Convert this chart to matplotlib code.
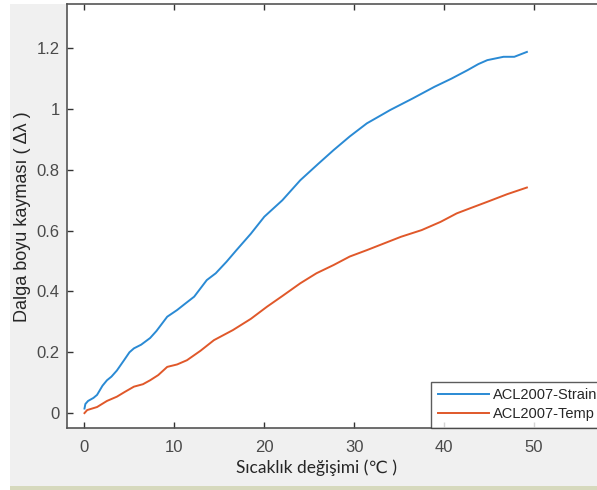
import matplotlib
matplotlib.use("Agg")
import matplotlib.pyplot as plt
from matplotlib.patches import Rectangle

# ---- data ----
strain_x = [0, 0.1, 0.4, 1.0, 1.4, 2.0, 2.5, 3.0, 3.6, 4.4, 5.0, 5.5, 6.3, 7.3, 8.0,
            9.2, 10.3, 11.2, 12.2, 13.6, 14.6, 15.8, 16.9, 18.5, 20.0, 22.0, 24.0,
            26.0, 27.7, 29.5, 31.4, 33.0, 34.0, 36.5, 38.9, 40.8, 42.6, 43.8, 44.8,
            46.6, 47.8, 49.2]
strain_y = [0.015, 0.03, 0.04, 0.05, 0.06, 0.09, 0.108, 0.12, 0.14, 0.174, 0.2, 0.213,
            0.225, 0.247, 0.27, 0.317, 0.339, 0.36, 0.383, 0.4375, 0.46, 0.498, 0.536,
            0.59, 0.646, 0.70, 0.766, 0.82, 0.865, 0.91, 0.953, 0.98, 0.997, 1.035,
            1.073, 1.10, 1.128, 1.148, 1.161, 1.172, 1.172, 1.188]

temp_x = [0, 0.3, 1.4, 2.5, 3.6, 4.5, 5.5, 6.5, 7.3, 8.2, 9.2, 10.3, 11.4, 12.9, 14.4,
          16.5, 18.5, 20.3, 22.0, 24.0, 25.8, 27.7, 29.5, 31.4, 33.3, 35.2, 37.5,
          39.6, 41.4, 43.0, 44.8, 47.0, 49.2]
temp_y = [0.0, 0.01, 0.02, 0.04, 0.054, 0.07, 0.087, 0.095, 0.108, 0.125, 0.152, 0.16,
          0.174, 0.205, 0.24, 0.273, 0.31, 0.35, 0.385, 0.427, 0.46, 0.487, 0.515,
          0.536, 0.558, 0.58, 0.602, 0.629, 0.657, 0.675, 0.695, 0.72, 0.742]

series_labels = ["ACL2007-Strain", "ACL2007-Temp"]
x_ticks = [0, 10, 20, 30, 40, 50]
y_ticks = [0, 0.2, 0.4, 0.6, 0.8, 1.0, 1.2]
y_ticklabels = ["0", "0.2", "0.4", "0.6", "0.8", "1", "1.2"]
x_label = "Sıcaklık değişimi (℃ )"
y_label = "Dalga boyu kayması ( Δλ )"

W, H = 597, 490
fig = plt.figure(figsize=(W / 100, H / 100), dpi=100, facecolor="white")

# gray figure background and bottom strip
fig.patches.append(Rectangle((10 / W, 4 / H), 1, (486 - 4) / H,
                             transform=fig.transFigure, facecolor="#f0f0f0",
                             edgecolor="none", zorder=-10))
fig.patches.append(Rectangle((10 / W, 0), 1, 4 / H,
                             transform=fig.transFigure, facecolor="#d6d9bd",
                             edgecolor="none", zorder=-10))

left_px, right_px, top_px, bot_px = 66.5, 624, 4.5, 428
ax = fig.add_axes([left_px / W, (H - bot_px) / H,
                   (right_px - left_px) / W, (bot_px - top_px) / H])
ax.set_facecolor("white")

ax.plot(strain_x, strain_y, color="#2a8ad4", lw=1.4, label=series_labels[0])
ax.plot(temp_x, temp_y, color="#e0582a", lw=1.4, label=series_labels[1])

ax.set_xlim(-2, 60)
ax.set_ylim(-0.049, 1.344)
ax.set_xticks(x_ticks)
ax.set_yticks(y_ticks)
ax.set_yticklabels(y_ticklabels)

for lab in ax.get_xticklabels() + ax.get_yticklabels():
    lab.set_fontfamily(["Liberation Sans", "DejaVu Sans"])
    lab.set_fontsize(12)
    lab.set_color("#4a4a4a")

ax.tick_params(direction="in", length=4, width=1, color="#333333",
               top=True, right=True)
ax.tick_params(axis="x", pad=8.5)
ax.tick_params(axis="y", pad=5)
for sp in ax.spines.values():
    sp.set_color("#555555")
    sp.set_linewidth(1.2)

ax.set_ylabel(y_label, fontsize=13, color="#262626",
              family=["Liberation Sans", "DejaVu Sans"])
ax.yaxis.set_label_coords(-(66.5 - 31) / (right_px - left_px), 0.5)

fig.text(317 / W, 1 - 473 / H, x_label, ha="center", va="baseline",
         fontsize=12.5, color="#262626", family=["Lato", "DejaVu Sans"])

leg = ax.legend(loc="lower left", bbox_to_anchor=(431 / W, (H - bot_px) / H),
                bbox_transform=fig.transFigure, frameon=True,
                fancybox=False, handlelength=3.5, handletextpad=0.3,
                labelspacing=0.35, borderpad=0.45, borderaxespad=0,
                prop={"family": ["Liberation Sans", "DejaVu Sans"], "size": 10.5})
leg.get_frame().set_edgecolor("#333333")
leg.get_frame().set_linewidth(1.0)
for t in leg.get_texts():
    t.set_color("#262626")

fig.savefig("out.png", dpi=100, facecolor="white")
